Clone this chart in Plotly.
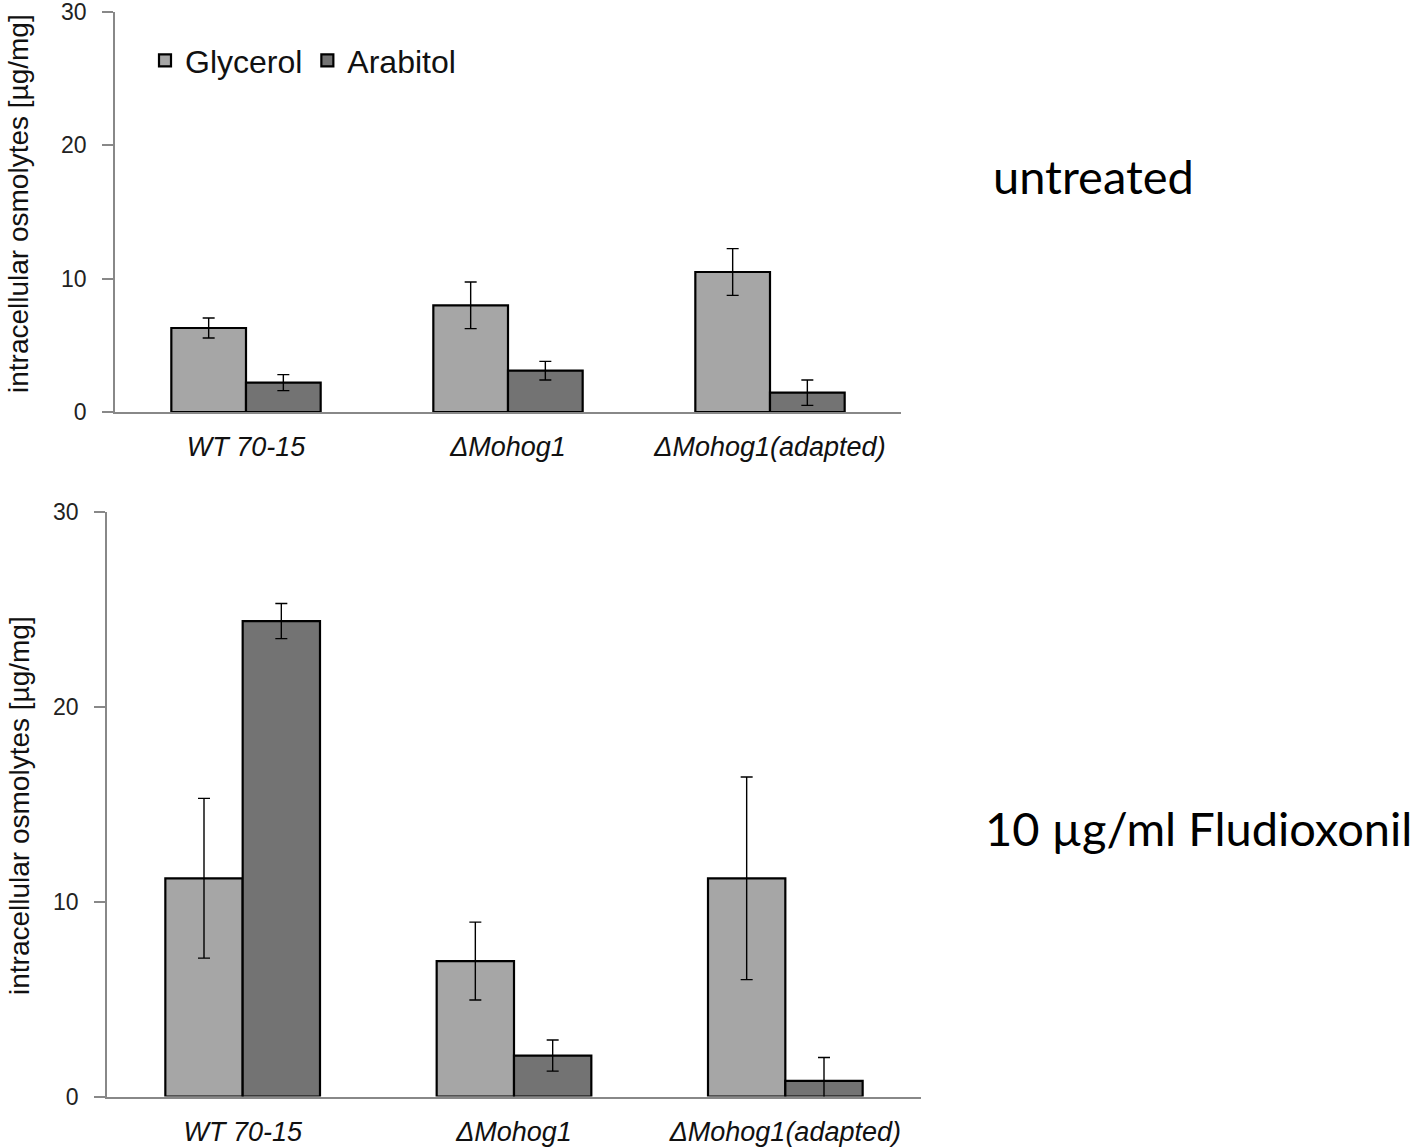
import plotly.graph_objects as go

categories = ["WT 70-15", "ΔMohog1", "ΔMohog1(adapted)"]

# untreated
untreated_glycerol = [6.3, 8.0, 10.5]
untreated_glycerol_err = [0.75, 1.75, 1.75]
untreated_arabitol = [2.2, 3.1, 1.45]
untreated_arabitol_err = [0.6, 0.7, 0.95]

# 10 µg/ml Fludioxonil
fludi_glycerol = [11.2, 6.95, 11.2]
fludi_glycerol_err = [4.1, 2.0, 5.2]
fludi_arabitol = [24.4, 2.1, 0.8]
fludi_arabitol_err = [0.9, 0.8, 1.2]

y_ticks = [0, 10, 20, 30]
series_names = ["Glycerol", "Arabitol"]
colors = ["#a6a6a6", "#737373"]
y_title = "intracellular osmolytes [µg/mg]"

W, H = 1418, 1148
cat_labels = [f"<i>{c}</i>" for c in categories]

fig = go.Figure()

def add_bars(vals, errs, name, color, xa, ya, showlegend):
    fig.add_trace(go.Bar(
        x=cat_labels, y=vals, name=name, xaxis=xa, yaxis=ya,
        showlegend=showlegend,
        marker=dict(color=color, line=dict(color="black", width=2.2)),
        error_y=dict(type="data", array=errs, visible=True, color="black",
                     thickness=1.4, width=6),
    ))

add_bars(untreated_glycerol, untreated_glycerol_err, series_names[0], colors[0], "x", "y", True)
add_bars(untreated_arabitol, untreated_arabitol_err, series_names[1], colors[1], "x", "y", True)
add_bars(fludi_glycerol, fludi_glycerol_err, series_names[0], colors[0], "x2", "y2", False)
add_bars(fludi_arabitol, fludi_arabitol_err, series_names[1], colors[1], "x2", "y2", False)

axis_col = "#888888"
tickfont = dict(family="Liberation Sans, Arial", size=23, color="#222")
catfont = dict(family="Liberation Sans, Arial", size=27, color="#111")
titlefont = dict(family="Liberation Sans, Arial", size=28, color="#111")

def xax(domain, anchor):
    return dict(domain=domain, anchor=anchor, showline=True, linecolor=axis_col,
                linewidth=1.5, ticks="", showgrid=False, zeroline=False,
                tickfont=catfont, fixedrange=True, automargin=False,
                ticklabelstandoff=10, ticklabeloverflow="allow")

def yax(domain, anchor):
    return dict(domain=domain, anchor=anchor, range=[0, 30], tickvals=y_ticks,
                showline=True, linecolor=axis_col, linewidth=1.5, ticks="outside",
                ticklen=11, tickcolor=axis_col, tickwidth=1.5, showgrid=False,
                zeroline=False, tickfont=tickfont, ticklabelstandoff=11,
                automargin=False, ticklabeloverflow="allow", fixedrange=True)

top_dom = [1 - 412 / H, 1 - 12 / H]
bot_dom = [1 - 1096.5 / H, 1 - 512 / H]

fig.update_layout(
    width=W, height=H,
    margin=dict(l=0, r=0, t=0, b=0, autoexpand=False),
    plot_bgcolor="white", paper_bgcolor="white",
    barmode="group", bargap=0.43, bargroupgap=0,
    xaxis=xax([115 / W, 901 / W], "y"),
    yaxis=yax(top_dom, "x"),
    xaxis2=xax([107 / W, 921 / W], "y2"),
    yaxis2=yax(bot_dom, "x2"),
    legend=dict(orientation="h", x=145 / W, y=1 - 33 / H, xanchor="left", yanchor="top",
                font=dict(family="Liberation Sans, Arial", size=32, color="#111"),
                bgcolor="rgba(0,0,0,0)", tracegroupgap=0),
    annotations=[
        dict(text=y_title, x=19 / W, y=1 - 204 / H, xref="paper", yref="paper",
             showarrow=False, textangle=-90, xanchor="center", yanchor="middle",
             font=titlefont),
        dict(text=y_title, x=19 / W, y=1 - 806 / H, xref="paper", yref="paper",
             showarrow=False, textangle=-90, xanchor="center", yanchor="middle",
             font=titlefont),
        dict(text="untreated", x=1093 / W, y=1 - 176 / H, xref="paper", yref="paper",
             showarrow=False, xanchor="center", yanchor="middle",
             font=dict(family="Lato, Carlito, Calibri", size=47, color="black")),
        dict(text="10 µg/ml Fludioxonil", x=1414 / W, y=1 - 828 / H, xref="paper", yref="paper",
             showarrow=False, xanchor="right", yanchor="middle",
             font=dict(family="Lato, Carlito, Calibri", size=47, color="black")),
    ],
)

fig.write_html("out.html", config={"displayModeBar": False},
               post_script="document.body.style.margin='0';")
